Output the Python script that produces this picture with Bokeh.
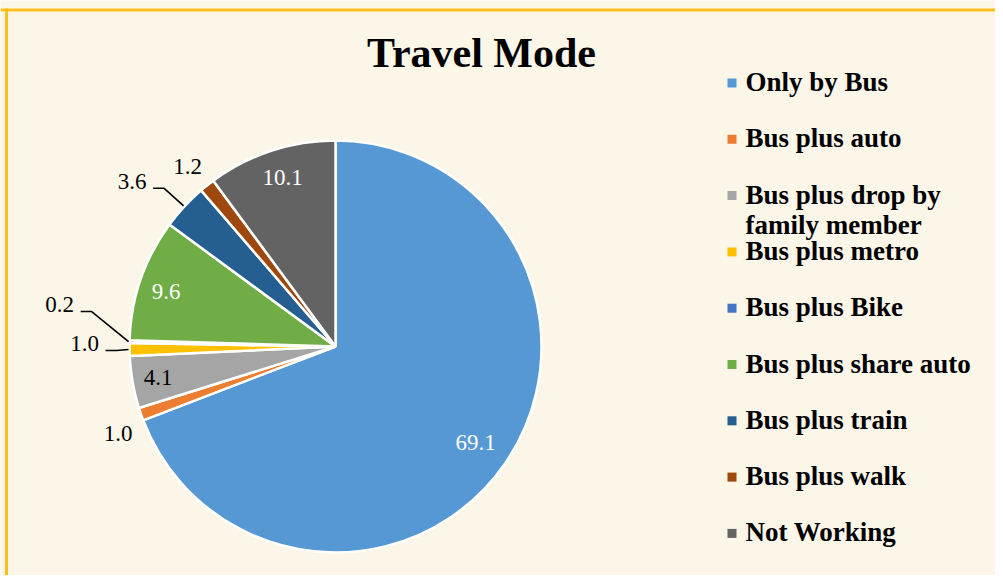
import numpy as np
from bokeh.plotting import figure
from bokeh.models import Range1d, ColumnDataSource
from bokeh.core.properties import value
from bokeh.embed import file_html
from bokeh.resources import INLINE

# ---------------- data ----------------
title = "Travel Mode"
categories = ["Only by Bus", "Bus plus auto", "Bus plus drop by family member",
              "Bus plus metro", "Bus plus Bike", "Bus plus share auto",
              "Bus plus train", "Bus plus walk", "Not Working"]
shares = [69.1, 1.0, 4.1, 1.0, 0.2, 9.6, 3.6, 1.2, 10.1]
colors = ["#5598D4", "#ED7D31", "#A5A5A5", "#FFC000", "#4472C4",
          "#70AD47", "#255E91", "#9E480E", "#636363"]

# ---------------- layout (screen px) ----------------
W, H = 995, 575
OX, OY = 0, 8
def sy(y):                   # screen y -> data y
    return OY + H - y

CX, CY, R = 335, 346, 206
FONT = "Liberation Serif"
BG = "#FBF6E8"
label_r = [170, 234, 180, 251, 279, 178, 262, 233, 177]
label_dang = [0, 2.6, 0, -1.5, -7.3, 1.0, 3.7, 0.8, -0.8]
label_col = ["white", "black", "black", "black", "black", "white", "black", "black", "white"]
leader = [False, False, False, True, True, False, True, False, False]

p = figure(width=W, height=H, output_backend="svg", toolbar_location=None,
           x_range=Range1d(OX, OX + W), y_range=Range1d(OY, OY + H),
           min_border=0, background_fill_color=BG, border_fill_color=BG)
p.axis.visible = False
p.grid.visible = False
p.outline_line_color = None

# ---------------- pie ----------------
vals = np.array(shares, dtype=float)
total = vals.sum()
cum = np.concatenate([[0], np.cumsum(vals)])
start = np.pi / 2 - 2 * np.pi * cum[:-1] / total
end = np.pi / 2 - 2 * np.pi * cum[1:] / total
mid = (start + end) / 2

src = ColumnDataSource(dict(start=start, end=end, color=colors, cat=categories))
p.wedge(x=CX, y=sy(CY), radius=R, start_angle="start", end_angle="end",
        direction="clock", fill_color="color", line_color="white", line_width=2.5,
        source=src)

# ---------------- data labels ----------------
ang = mid + np.radians(label_dang)
lx = CX + np.array(label_r) * np.cos(ang)
ly = CY - np.array(label_r) * np.sin(ang)
ltxt = ["%.1f" % v for v in shares]
p.text(x=lx, y=[sy(v) for v in ly], text=ltxt, text_color=label_col,
       text_font=value(FONT), text_font_size="23px",
       text_align="center", text_baseline="middle")

# leader lines
xs, ys = [], []
for i in range(len(shares)):
    if not leader[i]:
        continue
    ex, ey = lx[i] + 21, ly[i] + 7
    bx, by = ex + 11, ey
    px_ = CX + (R + 1) * np.cos(mid[i])
    py_ = CY - (R + 1) * np.sin(mid[i])
    xs.append([ex, bx, px_])
    ys.append([sy(ey), sy(by), sy(py_)])
p.multi_line(xs=xs, ys=ys, line_color="black", line_width=1.6)

# ---------------- title ----------------
p.text(x=[481], y=[sy(52)], text=[title], text_font=value(FONT),
       text_font_size="42px", text_font_style="bold", text_color="black",
       text_align="center", text_baseline="middle")

# ---------------- legend ----------------
LX_SQ, LX_TX, LY0, LDY = 731.5, 745, 82.5, 56.3
leg_labels = [c.replace("drop by ", "drop by\n") for c in categories]
sq_y = [sy(LY0 + LDY * i) for i in range(len(categories))]
p.rect(x=[LX_SQ] * len(categories), y=sq_y, width=9, height=9,
       fill_color=colors, line_color=None)
tx, tyy, tt = [], [], []
for i, lab in enumerate(leg_labels):
    for j, line in enumerate(lab.split("\n")):
        tx.append(LX_TX)
        tyy.append(sy(LY0 - 1 + LDY * i + 30 * j))
        tt.append(line)
p.text(x=tx, y=tyy, text=tt, text_font=value(FONT), text_font_size="27px",
       text_font_style="bold", text_color="black",
       text_align="left", text_baseline="middle")

# ---------------- frame border (top and left) ----------------
p.line(x=[OX, OX + W], y=[sy(9.5), sy(9.5)], line_color="#FFBF1F", line_width=3)
p.line(x=[6, 6], y=[sy(8), sy(OY + H)], line_color="#FFBF1F", line_width=3)

html = file_html(p, INLINE)
html = html.replace("<body>", '<body style="background:#FBF6E8">', 1)
open("out.html", "w").write(html)
